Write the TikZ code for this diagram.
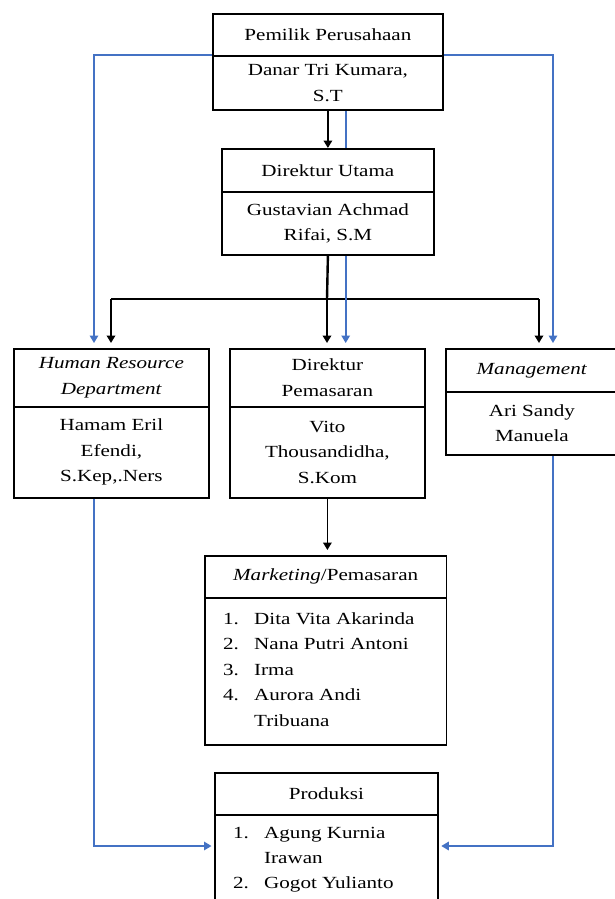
\documentclass[tikz,border=0pt]{standalone}
\usepackage{fontspec}
\setmainfont{Liberation Serif}[FakeStretch=1.24]
\usetikzlibrary{arrows.meta,calc}
\definecolor{cblue}{RGB}{68,114,196}
\begin{document}
\begin{tikzpicture}[x=1pt,y=-1pt,
  box/.style={draw=black, line width=1.8pt, rectangle, inner sep=0pt, align=center, anchor=north west, font=\fontsize{17}{25.5}\selectfont},
  txt/.style={inner sep=0pt, anchor=base west, font=\fontsize{17}{25.5}\selectfont},
  blk/.style={draw=black, line width=1.8pt},
  blu/.style={draw=cblue, line width=1.6pt},
  tip/.style={-{Triangle[length=7.5pt,width=8.5pt]}},
]
\clip (0,0) rectangle (615,899);
\fill[white] (0,0) rectangle (615,899);

% boxes
\node[box, minimum width=230, minimum height=42] (pemH) at (212,13) {Pemilik Perusahaan};
\node[box, minimum width=230, minimum height=54] (pemB) at (212,55) {Danar Tri Kumara,\\S.T};

\node[box, minimum width=212, minimum height=43] (duH) at (221,148) {Direktur Utama};
\node[box, minimum width=212, minimum height=63] (duB) at (221,191) {Gustavian Achmad\\Rifai, S.M};

\node[box, minimum width=195, minimum height=58] (hrH) at (13,348) {\textit{Human Resource}\\\textit{Department}};
\node[box, minimum width=195, minimum height=91] (hrB) at (13,406) {Hamam Eril\\Efendi,\\S.Kep,.Ners};

\node[box, minimum width=195, minimum height=58] (dpH) at (229,348) {Direktur\\Pemasaran};
\node[box, minimum width=195, minimum height=91] (dpB) at (229,406) {Vito\\Thousandidha,\\S.Kom};

\node[box, minimum width=172, minimum height=43] (mgH) at (445,348) {\textit{Management}};
\node[box, minimum width=172, minimum height=63] (mgB) at (445,391) {Ari Sandy\\Manuela};

\node[box, minimum width=241.5, minimum height=42] (mkH) at (204,555) {\textit{Marketing}/Pemasaran};
\node[box, minimum width=241.5, minimum height=147] (mkB) at (204,597) {};

\node[box, minimum width=223, minimum height=42] (prH) at (214,772) {Produksi};
\node[box, minimum width=223, minimum height=100] (prB) at (214,814) {};

% list texts
\node[txt] (m1n) at (223,624) {1.};
\node[txt] (m1) at (254,624) {Dita Vita Akarinda};
\node[txt] (m2n) at (223,649.5) {2.};
\node[txt] (m2) at (254,649.5) {Nana Putri Antoni};
\node[txt] (m3n) at (223,675) {3.};
\node[txt] (m3) at (254,675) {Irma};
\node[txt] (m4n) at (223,700.5) {4.};
\node[txt] (m4) at (254,700.5) {Aurora Andi};
\node[txt] (m4b) at (254,726) {Tribuana};

\node[txt] (p1n) at (233,838) {1.};
\node[txt] (p1) at (264,838) {Agung Kurnia};
\node[txt] (p1b) at (264,863) {Irawan};
\node[txt] (p2n) at (233,888) {2.};
\node[txt] (p2) at (264,888) {Gogot Yulianto};

% helper coordinates
\coordinate (xL) at (94,0);
\coordinate (xR) at (553,0);
\coordinate (xB) at (345.7,0);
\coordinate (xHR) at (111,0);
\coordinate (xMG) at (539,0);
\coordinate (jn) at (327,299);
\coordinate (yP) at (0,846);

% black connectors
\draw[blk,tip] (pemB.south) -- (pemB.south |- duH.north);
\draw[blk,line width=2.4pt] (duB.south) -- (jn);
\draw[blk] (xHR |- jn) -- (xMG |- jn);
\draw[blk,tip,shorten >=5pt] (jn) -- (jn |- dpH.north);
\draw[blk,tip,shorten >=5pt] (xHR |- jn) -- (xHR |- hrH.north);
\draw[blk,tip,shorten >=5pt] (xMG |- jn) -- (xMG |- mgH.north);
\draw[blk,tip,shorten >=5pt] (dpB.south) -- (dpB.south |- mkH.north);

% blue connectors
\draw[blu,tip,shorten >=5pt] (pemB.north west) -| (xL |- hrH.north);
\draw[blu,tip,shorten >=5pt] (pemB.north east) -| (xR |- mgH.north);
\draw[blu] (xB |- pemB.south) -- (xB |- duH.north);
\draw[blu,tip,shorten >=5pt] (xB |- duB.south) -- (xB |- dpH.north);
\draw[blu,tip,shorten >=2.5pt] (xL |- hrB.south) |- (yP -| prB.west);
\draw[blu,tip,shorten >=2.5pt] (xR |- mgB.south) |- (yP -| prB.east);
\end{tikzpicture}
\end{document}
